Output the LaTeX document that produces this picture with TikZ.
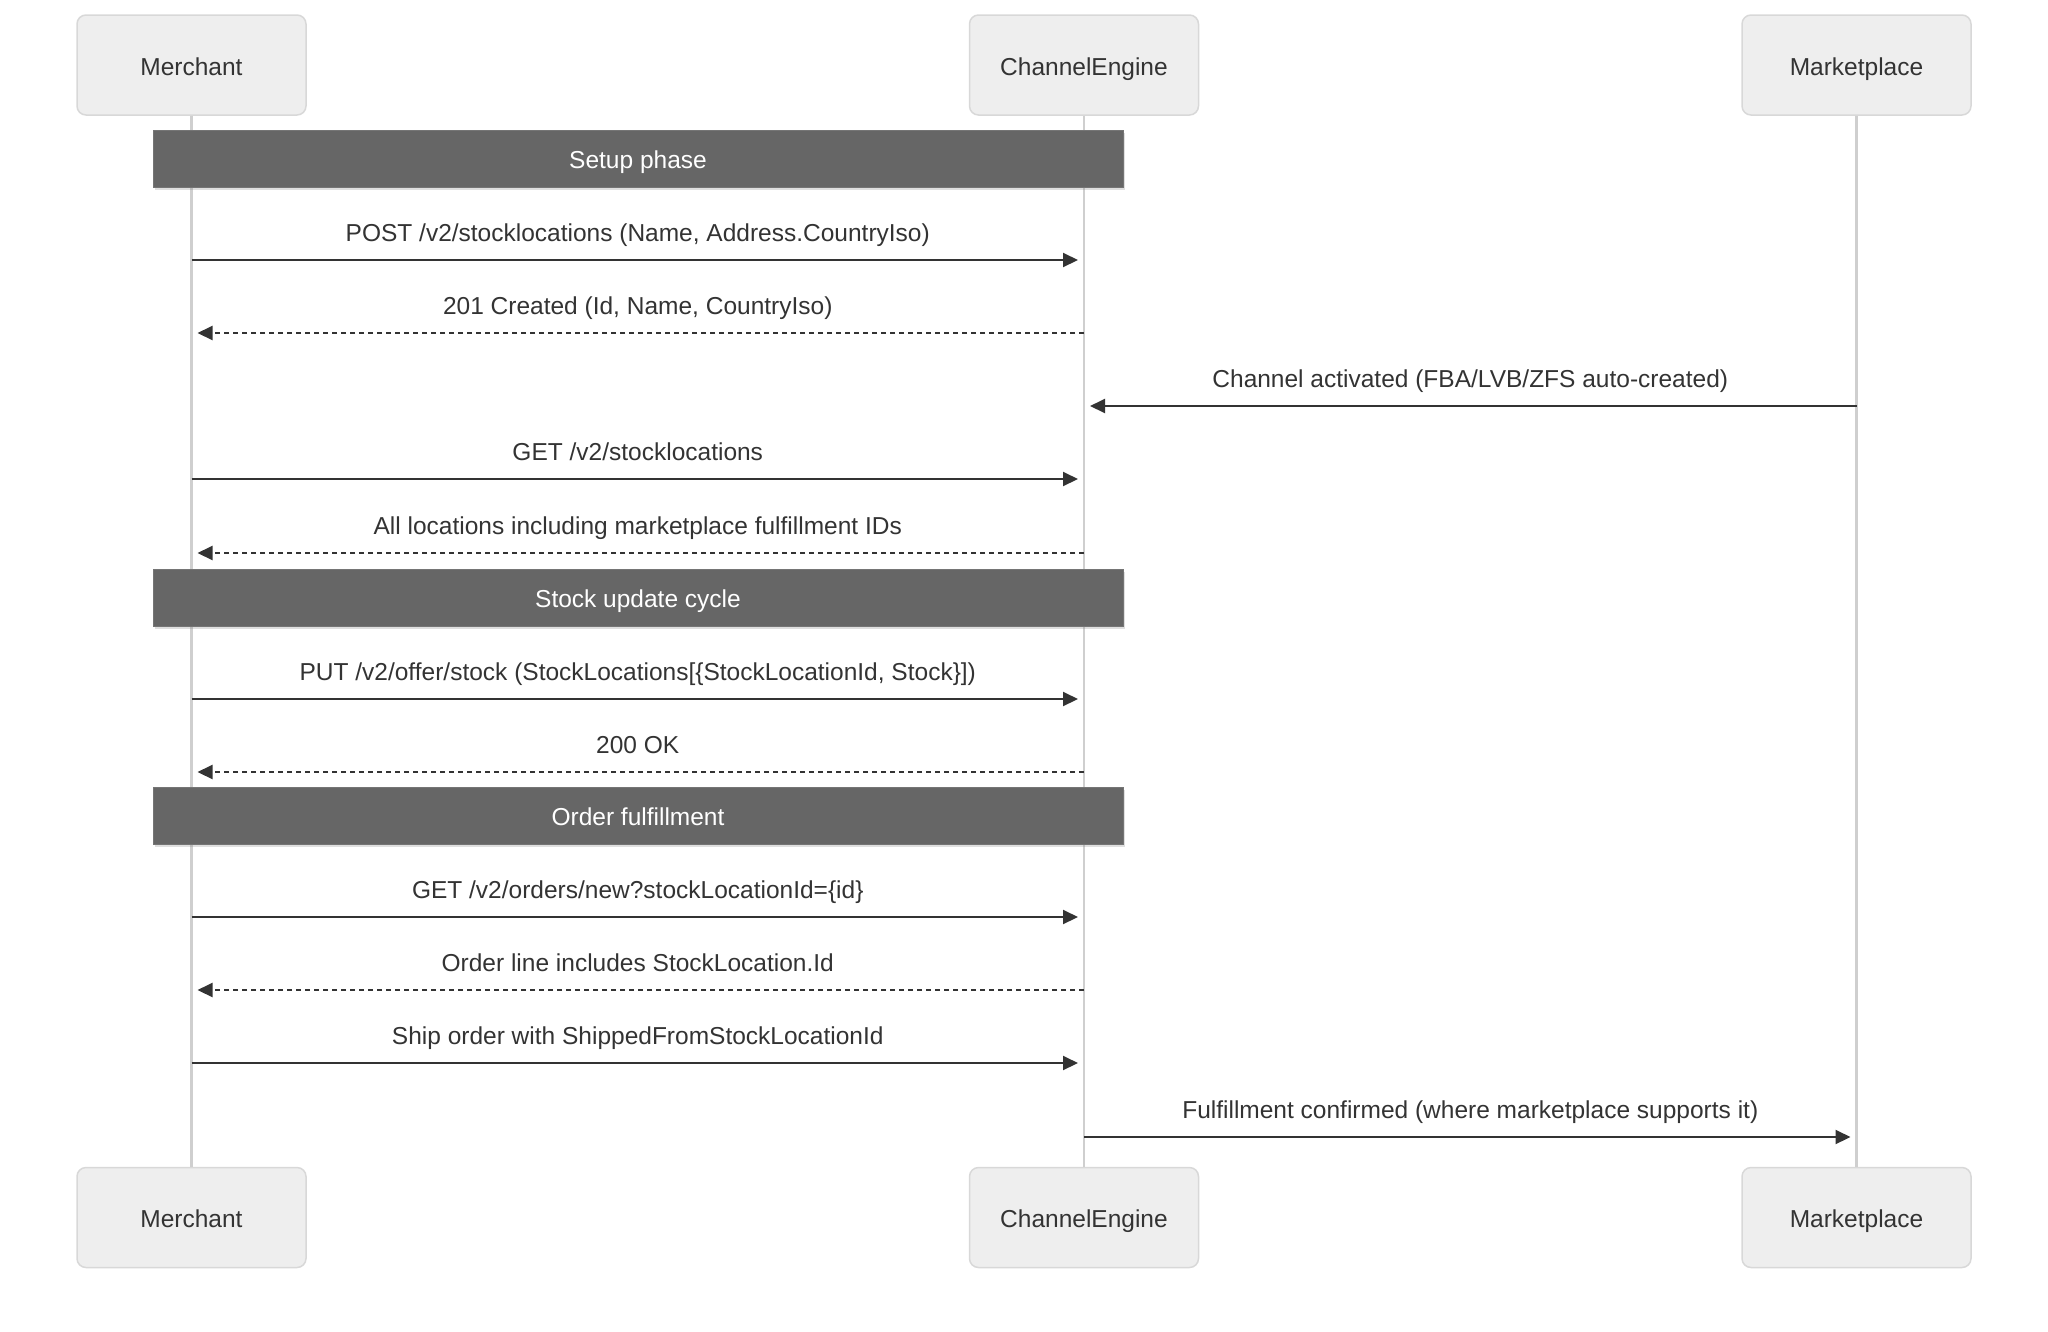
\documentclass[tikz,border=0pt]{standalone}
\usepackage{fontspec}
\setmainfont{Liberation Sans}
\usetikzlibrary{arrows.meta,shadows}
\definecolor{actorfill}{HTML}{EEEEEE}
\definecolor{actorline}{HTML}{D8D8D8}
\definecolor{lifeline}{HTML}{CFCFCF}
\definecolor{msgline}{HTML}{333333}
\definecolor{notefill}{HTML}{666666}
\begin{document}
\begin{tikzpicture}[x=1pt, y=-1pt,
  actor/.style={draw=actorline, line width=1.5pt, fill=actorfill, rounded corners=9pt,
    minimum width=229pt, minimum height=100pt, text height=22pt, text depth=2pt,
    text=msgline, font=\fontsize{24.5}{30}\selectfont},
  life/.style={draw=lifeline, line width=2.2pt},
  msg/.style={draw=msgline, line width=2pt, -{Triangle[length=15pt,width=14pt]}, shorten >=6pt},
  reply/.style={msg, dash pattern=on 5pt off 4pt},
  msgtext/.style={anchor=base, yshift=19pt, text=msgline, font=\fontsize{24.5}{30}\selectfont},
  phase/.style={draw=notefill!90!white, line width=1pt, fill=notefill, text=white,
    minimum width=970pt, minimum height=57pt, text height=22pt, text depth=2pt,
    font=\fontsize{24.5}{30}\selectfont,
    drop shadow={shadow xshift=2pt, shadow yshift=-3pt, opacity=0.25}}]
\newcommand\Msg[5]{\draw[#1] (#2 |- 0,#4) -- (#3 |- 0,#4) node[midway, msgtext] {#5};}
\useasboundingbox (0,0) rectangle (2048,1331);

\node[actor] (merT) at (191.5,65) {Merchant};
\node[actor] (ceT) at (1084,65) {ChannelEngine};
\node[actor] (mpT) at (1856.5,65) {Marketplace};
\node[actor] (merB) at (191.5,1217.5) {Merchant};
\node[actor] (ceB) at (1084,1217.5) {ChannelEngine};
\node[actor] (mpB) at (1856.5,1217.5) {Marketplace};

\draw[life] (merT) -- (merB);
\draw[life] (ceT) -- (ceB);
\draw[life] (mpT) -- (mpB);

\node[phase] (setup) at (638,158.5) {Setup phase};
\node[phase] (cycle) at (638,597.5) {Stock update cycle};
\node[phase] (orders) at (638,815.5) {Order fulfillment};

\Msg{msg}{merT}{ceT}{260}{POST /v2/stocklocations (Name, Address.CountryIso)}
\Msg{reply}{ceT}{merT}{333}{201 Created (Id, Name, CountryIso)}
\Msg{msg}{mpT}{ceT}{406}{Channel activated (FBA/LVB/ZFS auto-created)}
\Msg{msg}{merT}{ceT}{479}{GET /v2/stocklocations}
\Msg{reply}{ceT}{merT}{553}{All locations including marketplace fulfillment IDs}
\Msg{msg}{merT}{ceT}{699}{PUT /v2/offer/stock (StockLocations[\{StockLocationId, Stock\}])}
\Msg{reply}{ceT}{merT}{772}{200 OK}
\Msg{msg}{merT}{ceT}{917}{GET /v2/orders/new?stockLocationId=\{id\}}
\Msg{reply}{ceT}{merT}{990}{Order line includes StockLocation.Id}
\Msg{msg}{merT}{ceT}{1063}{Ship order with ShippedFromStockLocationId}
\Msg{msg}{ceT}{mpT}{1137}{Fulfillment confirmed (where marketplace supports it)}
\end{tikzpicture}
\end{document}
